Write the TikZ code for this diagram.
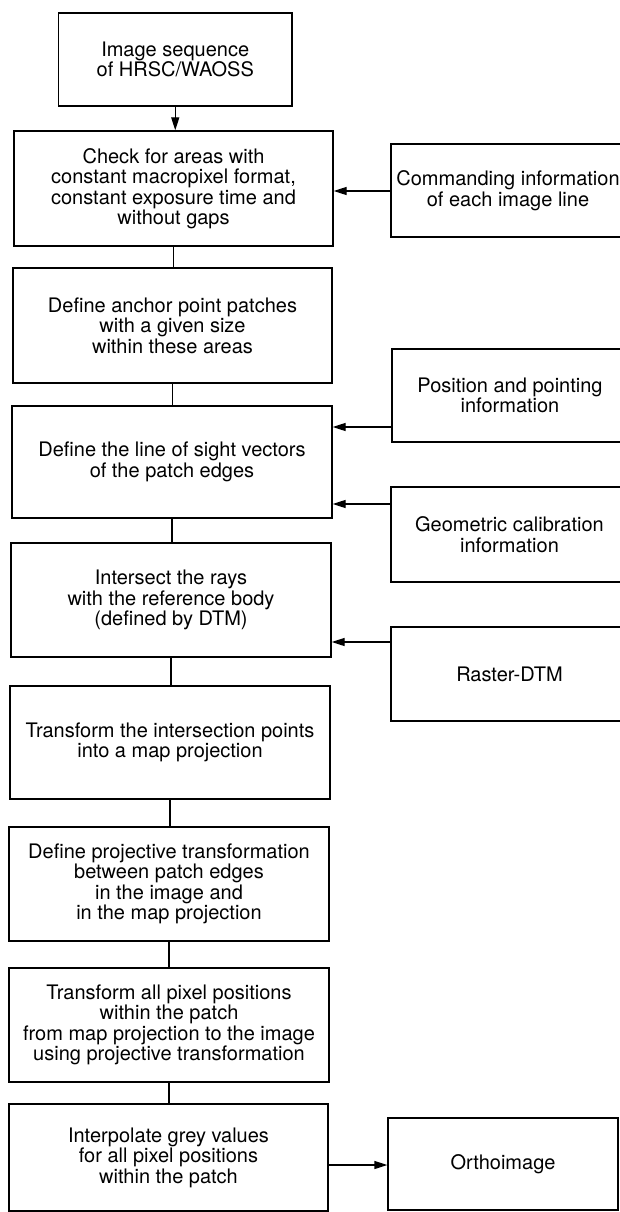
\documentclass[tikz,border=0pt]{standalone}
\usepackage{fontspec}
\setmainfont{TeX Gyre Heros}
\usetikzlibrary{arrows.meta}
\begin{document}
\begin{tikzpicture}[x=1pt,y=1pt,
  box/.style={draw=black, line width=1.3pt, rectangle, inner sep=0pt, align=center,
    font=\fontsize{20}{20.5}\selectfont, text=black},
  link/.style={line width=1.3pt, draw=black},
  arr/.style={line width=1.3pt, draw=black, -{Triangle[length=13pt,width=8pt]}}]
\fill[white] (0,0) rectangle (620,-1212);
\useasboundingbox (0,0) rectangle (620,-1212);
% main column
\node[box, minimum width=233.5, minimum height=93] (b1) at (175.25,-59.5) {Image sequence\\of HRSC/WAOSS};
\node[box, minimum width=319, minimum height=115] (b2) at (173.5,-188.5) {Check for areas with\\constant macropixel format,\\constant exposure time and\\without gaps};
\node[box, minimum width=319, minimum height=115] (b3) at (172.5,-325.5) {Define anchor point patches\\with a given size\\within these areas};
\node[box, minimum width=320, minimum height=112] (b4) at (172,-462) {Define the line of sight vectors\\of the patch edges};
\node[box, minimum width=320, minimum height=114] (b5) at (171,-600) {Intersect the rays\\with the reference body\\(defined by DTM)};
\node[box, minimum width=320, minimum height=113] (b6) at (170,-742.5) {Transform the intersection points\\into a map projection};
\node[box, minimum width=320, minimum height=114] (b7) at (169,-884) {Define projective transformation\\between patch edges\\in the image and\\in the map projection};
\node[box, minimum width=320, minimum height=114] (b8) at (169,-1025) {Transform all pixel positions\\within the patch\\from map projection to the image\\using projective transformation};
\node[box, minimum width=319, minimum height=107] (b9) at (168.5,-1157.5) {Interpolate grey values\\for all pixel positions\\within the patch};
% right column
\node[box, minimum width=234, minimum height=93] (cmd) at (508,-190.5) {Commanding information\\of each image line};
\node[box, minimum width=236, minimum height=93] (pos) at (510,-395.5) {Position and pointing\\information};
\node[box, minimum width=237, minimum height=95] (geo) at (509.5,-534.5) {Geometric calibration\\information};
\node[box, minimum width=237, minimum height=94] (ras) at (509.5,-674) {Raster-DTM};
\node[box, minimum width=230, minimum height=92] (ort) at (503,-1164) {Orthoimage};
% vertical connectors
\draw[arr] (b1.south) -- (b1.south |- b2.north);
\draw[link] (b2.south) -- (b2.south |- b3.north);
\draw[link] (b3.south) -- (b3.south |- b4.north);
\draw[link] (b4.south) -- (b4.south |- b5.north);
\draw[link] (b5.south) -- (b5.south |- b6.north);
\draw[link] (b6.south) -- (b6.south |- b7.north);
\draw[link] (b7.south) -- (b7.south |- b8.north);
\draw[link] (b8.south) -- (b8.south |- b9.north);
% horizontal arrows
\draw[arr] (cmd.west |- 0,-191) -- (b2.east |- 0,-191);
\draw[arr] (pos.west |- 0,-427) -- (b4.east |- 0,-427);
\draw[arr] (geo.west |- 0,-504) -- (b4.east |- 0,-504);
\draw[arr] (ras.west |- 0,-642) -- (b5.east |- 0,-642);
\draw[arr] (b9.east |- 0,-1165) -- (ort.west |- 0,-1165);
\end{tikzpicture}
\end{document}
